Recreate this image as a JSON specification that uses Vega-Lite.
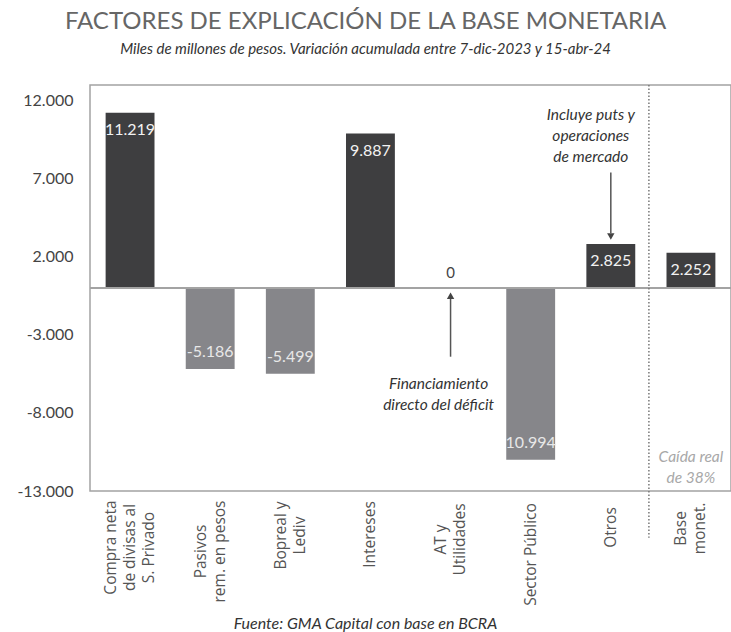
{
  "$schema": "https://vega.github.io/schema/vega-lite/v6.json",
  "width": 641,
  "height": 406,
  "autosize": {"type": "none"},
  "padding": {"left": 90, "top": 85, "right": 0, "bottom": 141},
  "background": "white",
  "config": {
    "font": "Lato",
    "view": {"stroke": "#a3a3a3", "strokeWidth": 1.5},
    "locale": {"number": {"decimal": ",", "thousands": ".", "grouping": [3], "currency": ["$", ""], "minus": "-"}}
  },
  "title": {
    "text": "FACTORES DE EXPLICACIÓN DE LA BASE MONETARIA",
    "subtitle": "Miles de millones de pesos. Variación acumulada entre 7-dic-2023 y 15-abr-24",
    "anchor": "middle",
    "frame": "group",
    "dx": -45,
    "offset": 27,
    "font": "Lato",
    "fontSize": 24,
    "fontWeight": "normal",
    "color": "#666666",
    "subtitleFont": "Lato",
    "subtitleFontStyle": "italic",
    "subtitleFontSize": 15,
    "subtitleColor": "#333333",
    "subtitlePadding": 8
  },
  "data": {"values": [
    {"cat": "Compra neta\nde divisas al\nS. Privado", "value": 11219, "label": "11.219"},
    {"cat": "Pasivos\nrem. en pesos", "value": -5186, "label": "-5.186"},
    {"cat": "Bopreal y\nLediv", "value": -5499, "label": "-5.499"},
    {"cat": "Intereses", "value": 9887, "label": "9.887"},
    {"cat": "AT y\nUtilidades", "value": 0, "label": "0"},
    {"cat": "Sector Público", "value": -10994, "label": "10.994"},
    {"cat": "Otros", "value": 2825, "label": "2.825"},
    {"cat": "Base\nmonet.", "value": 2252, "label": "2.252"}
  ]},
  "layer": [
    {
      "mark": {"type": "bar"},
      "encoding": {
        "x": {
          "field": "cat", "type": "nominal", "sort": null,
          "scale": {
            "domain": ["Compra neta\nde divisas al\nS. Privado", "Pasivos\nrem. en pesos", "Bopreal y\nLediv", "Intereses", "AT y\nUtilidades", "Sector Público", "Otros", "Base\nmonet."],
            "paddingInner": 0.39, "paddingOuter": 0.195
          },
          "axis": {
            "title": "Fuente: GMA Capital con base en BCRA",
            "titleFont": "Lato", "titleFontStyle": "italic", "titleFontWeight": "normal",
            "titleFontSize": 16, "titleColor": "#333333",
            "titleX": 275, "titleY": 132, "titleAlign": "center", "titleBaseline": "middle",
            "labelAngle": -90, "labelAlign": "center", "labelBaseline": "middle",
            "labelFont": "Open Sans", "labelFontSize": 15.5, "labelColor": "#555555",
            "labelLineHeight": 19, "labelLimit": 0, "labelOverlap": false,
            "labelExpr": "split(datum.label, '\\n')",
            "labelOffset": {
              "condition": [
                {"test": "indexof(datum.value,'Compra')===0", "value": -19},
                {"test": "indexof(datum.value,'\\n')>=0", "value": -9.5}
              ],
              "value": 0
            },
            "labelPadding": {
              "condition": [
                {"test": "indexof(datum.value,'Compra')===0", "value": 56},
                {"test": "indexof(datum.value,'Pasivos')===0", "value": 60},
                {"test": "indexof(datum.value,'Bopreal')===0", "value": 44},
                {"test": "datum.value==='Intereses'", "value": 43},
                {"test": "indexof(datum.value,'AT y')===0", "value": 48},
                {"test": "datum.value==='Sector Público'", "value": 63},
                {"test": "datum.value==='Otros'", "value": 36}
              ],
              "value": 37
            },
            "ticks": false, "domain": false, "grid": false
          }
        },
        "y": {
          "field": "value", "type": "quantitative",
          "scale": {"domain": [-13000, 13000], "nice": false, "zero": false},
          "axis": {
            "title": null, "values": [-13000, -8000, -3000, 2000, 7000, 12000],
            "format": ",.0f", "grid": false, "ticks": false, "domain": false,
            "labelFont": "Lato", "labelFontSize": 16, "labelColor": "#444444", "labelPadding": 17
          }
        },
        "color": {"condition": {"test": "datum.value < 0", "value": "#86868a"}, "value": "#3e3e40"}
      }
    },
    {
      "transform": [{"filter": "datum.value > 0"}],
      "mark": {"type": "text", "baseline": "middle", "dy": 17, "fontSize": 16, "font": "Lato", "color": "#f2f2f2"},
      "encoding": {
        "x": {"field": "cat", "type": "nominal", "sort": null},
        "y": {"field": "value", "type": "quantitative"},
        "text": {"field": "label"}
      }
    },
    {
      "transform": [{"filter": "datum.value < 0"}],
      "mark": {"type": "text", "baseline": "middle", "dy": -17, "fontSize": 16, "font": "Lato", "color": "#e8e8e8"},
      "encoding": {
        "x": {"field": "cat", "type": "nominal", "sort": null},
        "y": {"field": "value", "type": "quantitative"},
        "text": {"field": "label"}
      }
    },
    {
      "transform": [{"filter": "datum.value == 0"}],
      "mark": {"type": "text", "baseline": "middle", "dy": -15, "fontSize": 15, "font": "Lato", "color": "#444444"},
      "encoding": {
        "x": {"field": "cat", "type": "nominal", "sort": null},
        "y": {"field": "value", "type": "quantitative"},
        "text": {"field": "label"}
      }
    },
    {
      "mark": {"type": "rule", "color": "#a3a3a3", "strokeWidth": 1.5},
      "encoding": {"y": {"datum": 0}}
    },
    {
      "data": {"values": [{"cat": "Base\nmonet.", "value": 13000, "value2": -16000}]},
      "mark": {"type": "rule", "color": "#777777", "strokeWidth": 1.5, "strokeDash": [1.5, 2]},
      "encoding": {
        "x": {"field": "cat", "type": "nominal", "sort": null, "bandPosition": -0.36},
        "y": {"field": "value", "type": "quantitative"},
        "y2": {"field": "value2"}
      }
    },
    {
      "data": {"values": [
        {"cat": "AT y\nUtilidades", "value": -4400, "value2": -600},
        {"cat": "Otros", "value": 7400, "value2": 3500}
      ]},
      "mark": {"type": "rule", "color": "#555555", "strokeWidth": 1.5},
      "encoding": {
        "x": {"field": "cat", "type": "nominal", "sort": null},
        "y": {"field": "value", "type": "quantitative"},
        "y2": {"field": "value2"}
      }
    },
    {
      "data": {"values": [
        {"cat": "AT y\nUtilidades", "value": -500, "dir": "up"},
        {"cat": "Otros", "value": 3300, "dir": "down"}
      ]},
      "mark": {"type": "point", "filled": true, "color": "#444444", "size": 55, "opacity": 1},
      "encoding": {
        "x": {"field": "cat", "type": "nominal", "sort": null},
        "y": {"field": "value", "type": "quantitative"},
        "shape": {"field": "dir", "type": "nominal", "scale": {"domain": ["up", "down"], "range": ["triangle-up", "triangle-down"]}, "legend": null}
      }
    },
    {
      "data": {"values": [{"cat": "AT y\nUtilidades", "value": -6150, "note": "Financiamiento\ndirecto del déficit"}]},
      "mark": {"type": "text", "lineBreak": "\n", "lineHeight": 21, "baseline": "middle", "align": "center", "dx": -12, "font": "Lato", "fontStyle": "italic", "fontSize": 15.5, "color": "#333333"},
      "encoding": {
        "x": {"field": "cat", "type": "nominal", "sort": null},
        "y": {"field": "value", "type": "quantitative"},
        "text": {"field": "note"}
      }
    },
    {
      "data": {"values": [{"cat": "Otros", "value": 11100, "note": "Incluye puts y\noperaciones\nde mercado"}]},
      "mark": {"type": "text", "lineBreak": "\n", "lineHeight": 21, "baseline": "middle", "align": "center", "dx": -20, "font": "Lato", "fontStyle": "italic", "fontSize": 15.5, "color": "#333333"},
      "encoding": {
        "x": {"field": "cat", "type": "nominal", "sort": null},
        "y": {"field": "value", "type": "quantitative"},
        "text": {"field": "note"}
      }
    },
    {
      "data": {"values": [{"cat": "Base\nmonet.", "value": -10830, "note": "Caída real\nde 38%"}]},
      "mark": {"type": "text", "lineBreak": "\n", "lineHeight": 21, "baseline": "middle", "align": "center", "font": "Lato", "fontStyle": "italic", "fontSize": 15.5, "color": "#a8a8a8"},
      "encoding": {
        "x": {"field": "cat", "type": "nominal", "sort": null},
        "y": {"field": "value", "type": "quantitative"},
        "text": {"field": "note"}
      }
    }
  ]
}
